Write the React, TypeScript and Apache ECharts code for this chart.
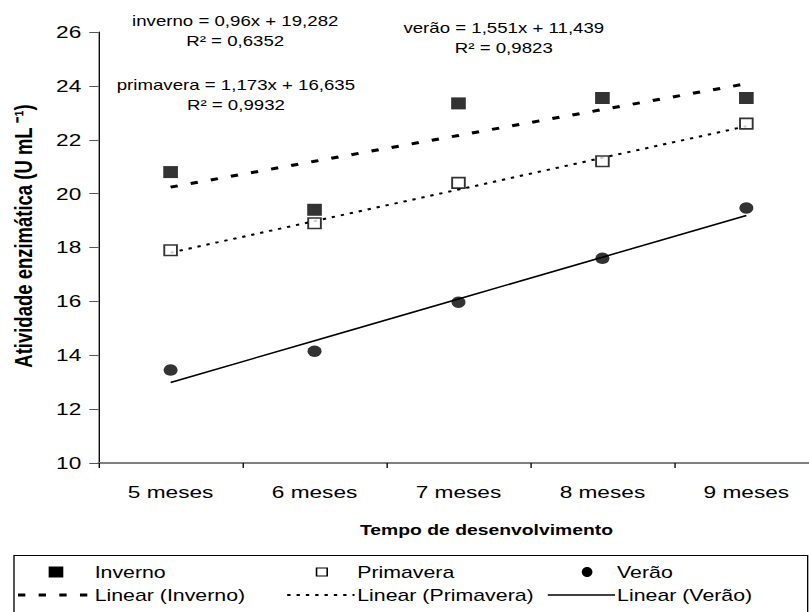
import React, { useEffect, useRef } from "react";
import * as echarts from "echarts";

const categories = ["5 meses", "6 meses", "7 meses", "8 meses", "9 meses"];
const inverno = [20.8, 19.4, 23.35, 23.55, 23.55];
const primavera = [17.9, 18.9, 20.4, 21.2, 22.6];
const verao = [13.45, 14.15, 15.97, 17.6, 19.47];
const trendInverno = [20.24, 21.2, 22.16, 23.12, 24.08];
const trendPrimavera = [17.81, 18.98, 20.15, 21.33, 22.5];
const trendVerao = [12.99, 14.54, 16.09, 17.64, 19.19];
const yMin = 10;
const yMax = 26;
const yStep = 2;
const equations = [
  { line1: "inverno = 0,96x + 19,282", line2: "R² = 0,6352" },
  { line1: "verão = 1,551x + 11,439", line2: "R² = 0,9823" },
  { line1: "primavera = 1,173x + 16,635", line2: "R² = 0,9932" },
];
const legendMarkers = ["Inverno", "Primavera", "Verão"];
const legendLines = ["Linear (Inverno)", "Linear (Primavera)", "Linear (Verão)"];

const FONT = "'Liberation Sans', Arial, sans-serif";
// the original figure is horizontally stretched
const STRETCH = 809 / 607;

export default function App() {
  const ref = useRef<HTMLDivElement>(null);
  useEffect(() => {
    if (!ref.current) return;
    const chart = echarts.init(ref.current, undefined, { renderer: "svg" });
    const eqPos = [
      { x: 176.5, y: 21 },
      { x: 378, y: 28 },
      { x: 177, y: 85 },
    ];
    const graphics: any[] = [];
    equations.forEach((e, i) => {
      graphics.push({
        type: "text",
        x: eqPos[i].x,
        y: eqPos[i].y,
        style: { text: e.line1, font: `14px ${FONT}`, fill: "#000", textAlign: "center", textVerticalAlign: "middle" },
      });
      graphics.push({
        type: "text",
        x: eqPos[i].x,
        y: eqPos[i].y + 20,
        style: { text: e.line2, font: `14px ${FONT}`, fill: "#000", textAlign: "center", textVerticalAlign: "middle" },
      });
    });
    // legend box
    graphics.push({
      type: "rect",
      shape: { x: 10.5, y: 555.5, width: 595.5, height: 80 },
      style: { fill: "#fff", stroke: "#000", lineWidth: 1 },
    });
    const r1 = 572;
    const r2 = 595;
    const col = [
      { m: 42, t: 71, ls: 13.5, le: 69 },
      { m: 241.5, t: 268, ls: 215.5, le: 266 },
      { m: 440.5, t: 463, ls: 411, le: 461.5 },
    ];
    graphics.push({ type: "rect", shape: { x: col[0].m - 5.5, y: r1 - 5.5, width: 11, height: 11 }, style: { fill: "#000" } });
    graphics.push({
      type: "rect",
      shape: { x: col[1].m - 4, y: r1 - 4, width: 8, height: 8 },
      style: { fill: "#fff", stroke: "#000", lineWidth: 1.2 },
    });
    graphics.push({ type: "ellipse", shape: { cx: col[2].m, cy: r1, rx: 4, ry: 5 }, style: { fill: "#000" } });
    legendMarkers.forEach((t, i) => {
      graphics.push({ type: "text", x: col[i].t, y: r1, style: { text: t, font: `16px ${FONT}`, fill: "#000", textVerticalAlign: "middle" } });
    });
    graphics.push({ type: "line", shape: { x1: col[0].ls, y1: r2, x2: col[0].le, y2: r2 }, style: { stroke: "#000", lineWidth: 3, lineDash: [5.5, 10] } });
    graphics.push({ type: "line", shape: { x1: col[1].ls, y1: r2, x2: col[1].le, y2: r2 }, style: { stroke: "#000", lineWidth: 2, lineDash: [2.5, 4.5] } });
    graphics.push({ type: "line", shape: { x1: col[2].ls, y1: r2, x2: col[2].le, y2: r2 }, style: { stroke: "#000", lineWidth: 1.5 } });
    legendLines.forEach((t, i) => {
      graphics.push({ type: "text", x: col[i].t, y: r2, style: { text: t, font: `16px ${FONT}`, fill: "#000", textVerticalAlign: "middle" } });
    });

    chart.setOption({
      animation: false,
      backgroundColor: "#fff",
      textStyle: { fontFamily: FONT },
      grid: { left: 67.5, top: 32, width: 546.5, height: 431, containLabel: false },
      xAxis: {
        type: "category",
        data: categories,
        boundaryGap: true,
        name: "Tempo de desenvolvimento",
        nameLocation: "middle",
        nameGap: 60,
        nameTextStyle: { fontFamily: FONT, fontSize: 14.5, fontWeight: "bold", color: "#000", padding: [0, 0, 0, 42] },
        axisLine: { lineStyle: { color: "#808080", width: 2 } },
        axisTick: { show: true, inside: false, length: 5, lineStyle: { color: "#000" } },
        axisLabel: { fontFamily: FONT, fontSize: 17, color: "#000", margin: 21 },
        splitLine: { show: false },
      },
      yAxis: {
        type: "value",
        min: yMin,
        max: yMax,
        interval: yStep,
        name: "Atividade enzimática (U mL ⁻¹)",
        nameLocation: "middle",
        nameGap: 47,
        nameRotate: 90,
        nameTextStyle: { fontFamily: FONT, fontSize: 18.5, fontWeight: "bold", color: "#000", padding: [0, 0, 0, 23] },
        axisLine: { show: true, lineStyle: { color: "#000", width: 1 } },
        axisTick: { show: true, inside: false, length: 7, lineStyle: { color: "#555" } },
        axisLabel: { fontFamily: FONT, fontSize: 17, color: "#000", margin: 13 },
        splitLine: { show: false },
      },
      series: [
        {
          name: "Linear (Inverno)", type: "line", data: trendInverno, symbol: "none", z: 2,
          lineStyle: { color: "#000", width: 3, type: [5.5, 10] },
        },
        {
          name: "Linear (Primavera)", type: "line", data: trendPrimavera, symbol: "none", z: 2,
          lineStyle: { color: "#000", width: 2, type: [2.5, 4.5] },
        },
        {
          name: "Linear (Verão)", type: "line", data: trendVerao, symbol: "none", z: 2,
          lineStyle: { color: "#000", width: 1.5 },
        },
        {
          name: "Inverno", type: "scatter", data: inverno, symbol: "rect", symbolSize: [11, 12], z: 3,
          itemStyle: { color: "#000" },
        },
        {
          name: "Primavera", type: "scatter", data: primavera, symbol: "rect", symbolSize: [9.5, 10.5], z: 3,
          itemStyle: { color: "#fff", borderColor: "#000", borderWidth: 1.5 },
        },
        {
          name: "Verão", type: "scatter", data: verao, symbol: "circle", symbolSize: [10.5, 11.5], z: 3,
          itemStyle: { color: "#000" },
        },
      ],
      graphic: graphics,
    });
    return () => chart.dispose();
  }, []);
  return (
    <div style={{ position: "absolute", left: 0, top: 0, width: 809, height: 612, overflow: "hidden", background: "#fff" }}>
      <div
        ref={ref}
        style={{ width: 620, height: 612, transform: `scaleX(${STRETCH})`, transformOrigin: "0 0" }}
      />
    </div>
  );
}
